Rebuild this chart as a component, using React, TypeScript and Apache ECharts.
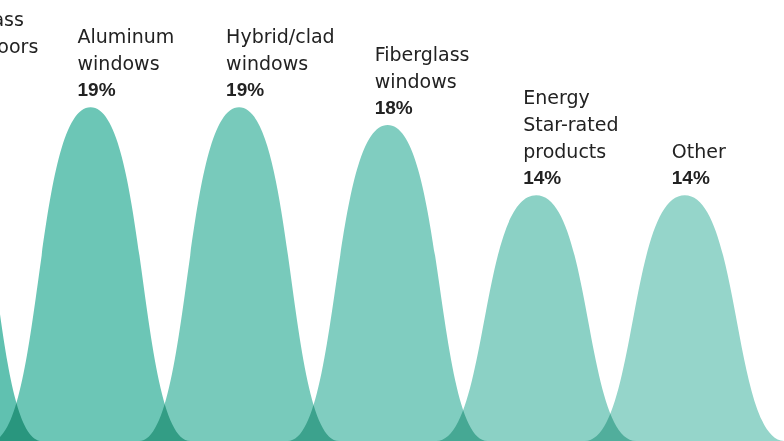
import React, { useEffect, useRef } from "react";
import * as echarts from "echarts";

// Product categories, share of respondents (%), one bell per category
const categories = [
  "Fiberglass\nentry doors",
  "Aluminum\nwindows",
  "Hybrid/clad\nwindows",
  "Fiberglass\nwindows",
  "Energy\nStar-rated\nproducts",
  "Other",
];
const shares = [20, 19, 19, 18, 14, 14];
const fills = ["#60c1b0", "#6cc6b6", "#78cabb", "#80cdc0", "#8bd1c5", "#95d5ca"];

const NAME_FONT = '19px "DejaVu Sans"';
const PCT_FONT = 'bold 19px "Liberation Sans"';
const LINE_H = 26.7;

export default function App() {
  const ref = useRef<HTMLDivElement>(null);

  useEffect(() => {
    document.body.style.margin = "0";
    const el = ref.current!;
    const chart = echarts.init(el, null, { renderer: "svg" });

    const renderItem = (params: any, api: any) => {
      const i = params.dataIndex;
      const v = api.value(1);
      const [cx, top] = api.coord([api.value(0), v]);
      const base = api.coord([api.value(0), 0])[1];
      const band = api.size([1, 0])[0];
      const w = band * 0.673;
      const d =
        `M${cx - w},${base} ` +
        `C${cx - w + 0.52 * w},${base} ${cx - 0.56 * w},${top} ${cx},${top} ` +
        `C${cx + 0.56 * w},${top} ${cx + w - 0.52 * w},${base} ${cx + w},${base} Z`;
      const pctY = top - 17.6;
      return {
        type: "group",
        children: [
          {
            type: "path",
            shape: { pathData: d, x: cx - w, y: top, width: 2 * w, height: base - top },
            style: { fill: fills[i] },
          },
          {
            type: "text",
            x: cx - 13,
            y: pctY - LINE_H / 2,
            z2: 10,
            style: {
              text: categories[i],
              font: NAME_FONT,
              fill: "#222222",
              lineHeight: LINE_H,
              align: "left",
              verticalAlign: "bottom",
            },
          },
          {
            type: "text",
            x: cx - 13,
            y: pctY,
            z2: 10,
            style: {
              text: `${v}%`,
              font: PCT_FONT,
              fill: "#222222",
              lineHeight: LINE_H,
              align: "left",
              verticalAlign: "middle",
            },
          },
        ],
      };
    };

    chart.setOption({
      animation: false,
      backgroundColor: "#ffffff",
      grid: { left: 0, right: 0, top: 2, bottom: 0 },
      // x runs over category slots; the first slot sits partly off the left edge
      xAxis: { type: "value", min: 0.3904, max: 5.6681, show: false },
      yAxis: { type: "value", min: 0, max: 25, show: false },
      series: [
        {
          type: "custom",
          renderItem,
          clip: false,
          data: shares.map((v, i) => [i, v]),
          encode: { x: 0, y: 1 },
        },
      ],
    });

    // overlapping bells darken where they cross
    el.querySelectorAll("svg path").forEach((p) => {
      (p as SVGElement).style.mixBlendMode = "multiply";
    });

    return () => chart.dispose();
  }, []);

  return <div ref={ref} style={{ width: 784, height: 441 }} />;
}
